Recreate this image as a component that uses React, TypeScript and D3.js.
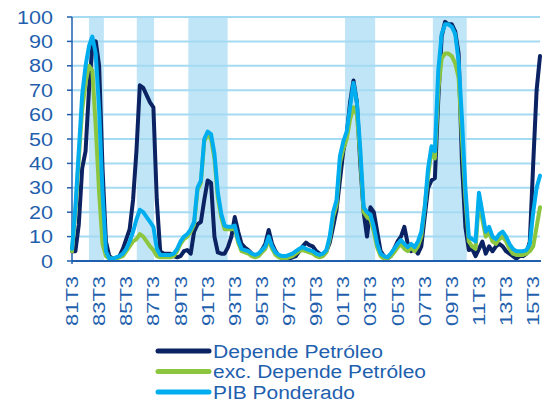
import React from "react";
import * as d3 from "d3";

const W = 551;
const H = 402;

// quarterly categories 81T3 .. 16T1
const categories: string[] = (() => {
  const out: string[] = [];
  let y = 81, q = 3;
  for (let i = 0; i < 139; i++) {
    out.push(String(y % 100).padStart(2, "0") + "T" + q);
    q++;
    if (q > 4) { q = 1; y++; }
  }
  return out;
})();

const tickLabels = ["81T3","83T3","85T3","87T3","89T3","91T3","93T3","95T3","97T3","99T3","01T3","03T3","05T3","07T3","09T3","11T3","13T3","15T3"];
const yTicks = [0,10,20,30,40,50,60,70,80,90,100];

// shaded periods (category positions)
const bandStart = [5.0, 19.1, 34.3, 80.5, 106.4];
const bandEnd = [9.4, 24.2, 45.9, 89.4, 116.4];

const dependePetroleo = [
  4,4,15,38,45,70,88,90,80,38,
  8,2,1,1,2,5,9,13,25,45,
  72,71,68,65,63,25,4,3,3,3,
  2,1.5,2,4,4.5,3,12,15,16,25,
  33,32,10,3.5,3,3,5.7,10,18,12,
  7,5.5,4.5,3,2,2.5,4.5,7,12.7,7,
  4,2,1.5,1,1,1.5,2,4,6,7.5,
  6.5,6,4,3,2.5,4,7.5,14,21,33,
  45,52,65,74,65,40,20,10,22,20,
  12,4,2,1,2,5,8,10,14,7,
  4,5,3,6,18,30,33,34,66,92,
  98,97,97,94,85,40,14,4.5,5,2,
  5,8,3,6,4,6,7,6,4,3,
  2,1,2,2,3,8,40,70,84
];

const excDependePetroleo = [
  4,20,42,62,73,80,78,55,28,7,
  2,1,1,1,1.5,2,4,6,8,9,
  11,10,8,6,4.5,2,1.5,1.5,1.5,1.5,
  2,4,7,9,10,12,15,29,32,49,
  52,50,42,26,18,13,13,13,13.5,7.5,
  4,3.5,3,2,1.5,2,3.5,5,8.5,5,
  2.5,1.5,1,1,1.5,2,3,4,4.5,4,
  3.5,3,2,1.5,2,3.5,9,18,23,40,
  46,50,58,63,60,43,20,18,17,12,
  5.5,2,1,1,2,3.5,5.5,7,5,4,
  5.5,4,6,10,22,35,45,42,70,83,
  85,85,84,81,75,50,26,8,6,5,
  25,17,10,12,8,7,9,10,8,5,
  3,2.5,2.5,2.5,3,4,6,14,22
];

const pibPonderado = [
  5,22,45,68,80,88,92,85,62,28,
  4,1,1,1.5,2,3,5,8,12,17,
  21,20,18,16,14,5,2.5,2.5,2.5,2.5,
  3,5,8,10,11,13,16,30,33,50,
  53,52,44,28,19.5,14.5,14,14,14.5,8.6,
  5,4.5,4,3,2.5,3,4.5,6,10,6,
  3.5,2.5,2,2,2.5,3,4,5,5.7,5,
  4.5,4,3,2.5,3,4.5,10,20,25,43,
  49,53,63,73,65,46,22,20,19,14,
  7,3,2,1.5,3,5,7,8.6,7,5.7,
  7,5.7,8,12,22,38,47,45,78,93,
  97,97,96,93,82,58,30,10,9,8,
  28,20,12,14,10,9,11,12,10,7,
  5,4,4,4,4.5,7,20,30,35
];

const seriesNames = ["Depende Petróleo", "exc. Depende Petróleo", "PIB Ponderado"];
const seriesColors = ["#0b2363", "#8cc63f", "#00aeef"];
const legendWidths = [170, 213, 142];

export default function App() {
  const x = d3.scaleLinear().domain([0, categories.length - 1]).range([72, 540]);
  const y = d3.scaleLinear().domain([0, 100]).range([261, 17]);
  const step = x(1) - x(0);
  const line = d3
    .line<number>()
    .x((_, i) => x(i))
    .y((d) => y(d));
  const data = [dependePetroleo, excDependePetroleo, pibPonderado];
  const axisColor = "#1f5fae";
  const textColor = "#1f5fae";

  return (
    <svg
      width={W}
      height={H}
      style={{ position: "absolute", left: 0, top: 0, background: "#fff" }}
      fontFamily="'Liberation Sans', Arial, sans-serif"
    >
      {bandStart.map((s, i) => (
        <rect
          key={"b" + i}
          x={x(s)}
          y={y(100)}
          width={x(bandEnd[i]) - x(s)}
          height={y(0) - y(100)}
          fill="#c0e5f7"
        />
      ))}
      {yTicks.filter((t) => t > 0).map((t) => (
        <line key={"g" + t} x1={x(0)} x2={x(categories.length - 1)} y1={y(t)} y2={y(t)} stroke="#a5daf3" strokeWidth={2} />
      ))}
      {yTicks.map((t) => (
        <g key={"yt" + t}>
          <line x1={67} x2={72} y1={y(t)} y2={y(t)} stroke={axisColor} strokeWidth={1.5} />
          <text
            x={53}
            y={y(t)}
            textAnchor="end"
            dominantBaseline="central"
            fontSize={18.5}
            fill={textColor}
            textLength={String(t).length * 12}
            lengthAdjust="spacingAndGlyphs"
          >
            {t}
          </text>
        </g>
      ))}
      <line x1={72} x2={72} y1={y(100)} y2={y(0) + 3} stroke={axisColor} strokeWidth={1.5} />
      {data.map((d, k) => (
        <path
          key={"s" + k}
          d={line(d) || ""}
          fill="none"
          stroke={seriesColors[k]}
          strokeWidth={4}
          strokeLinejoin="round"
          strokeLinecap="round"
        />
      ))}
      <line x1={72} x2={541} y1={y(0)} y2={y(0)} stroke={axisColor} strokeWidth={2} />
      {tickLabels.map((lab) => {
        const idx = categories.indexOf(lab);
        const cx = x(idx);
        return (
          <text
            key={lab}
            transform={`translate(${cx},276) rotate(-90)`}
            textAnchor="end"
            dominantBaseline="central"
            fontSize={16.5}
            fill={textColor}
            textLength={50}
            lengthAdjust="spacingAndGlyphs"
          >
            {lab}
          </text>
        );
      })}
      {seriesNames.map((n, k) => {
        const cy = 351 + k * 20.5;
        return (
          <g key={"l" + k}>
            <line x1={158} x2={209} y1={cy} y2={cy} stroke={seriesColors[k]} strokeWidth={5} strokeLinecap="round" />
            <text
              x={213}
              y={cy + 6.5}
              fontSize={18}
              fill={textColor}
              textLength={legendWidths[k]}
              lengthAdjust="spacingAndGlyphs"
            >
              {n}
            </text>
          </g>
        );
      })}
    </svg>
  );
}
